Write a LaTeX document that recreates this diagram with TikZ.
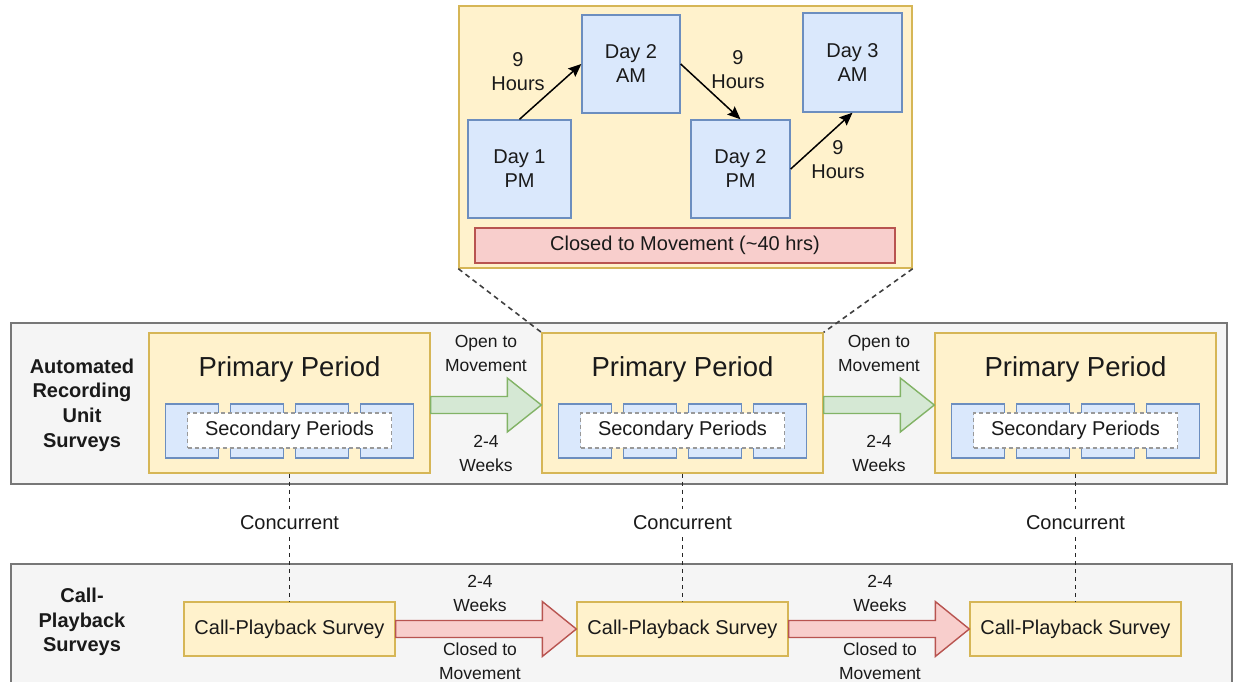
\documentclass[tikz,border=0pt]{standalone}
\usepackage{fontspec}
\setmainfont{Liberation Sans}
\usetikzlibrary{calc,arrows.meta}
\definecolor{yfill}{HTML}{FFF2CC}
\definecolor{ybord}{HTML}{D6B656}
\definecolor{bfill}{HTML}{DAE8FC}
\definecolor{bbord}{HTML}{6C8EBF}
\definecolor{rfill}{HTML}{F8CECC}
\definecolor{rbord}{HTML}{B85450}
\definecolor{gfill}{HTML}{D5E8D4}
\definecolor{gbord}{HTML}{82B366}
\definecolor{grfill}{HTML}{F5F5F5}
\definecolor{grbord}{HTML}{777777}
\definecolor{txt}{HTML}{1A1A1A}
\begin{document}
\begin{tikzpicture}[x=1pt,y=-1pt,
  every node/.style={text=txt},
  lbl/.style={font=\fontsize{20}{24}\selectfont, align=center, inner sep=0pt},
  small/.style={font=\fontsize{17.5}{24}\selectfont, align=center, inner sep=0pt},
  boldlbl/.style={font=\fontsize{20}{24.6}\selectfont\bfseries, align=center, inner sep=0pt},
  bigtxt/.style={font=\fontsize{27.5}{30}\selectfont, inner sep=0pt},
  ybox/.style={draw=ybord, fill=yfill, line width=1.4pt, inner sep=0pt},
  bbox/.style={draw=bbord, fill=bfill, line width=1.4pt, inner sep=0pt},
  rbox/.style={draw=rbord, fill=rfill, line width=1.4pt, inner sep=0pt},
  gbox/.style={draw=grbord, fill=grfill, line width=1.8pt, inner sep=0pt},
  sbox/.style={draw=black!40, fill=white, dashed, dash pattern=on 4pt off 3pt, line width=1.2pt, inner sep=0pt},
  garrow/.style={draw=gbord, fill=gfill, line width=1.4pt, line join=miter},
  rarrow/.style={draw=rbord, fill=rfill, line width=1.4pt, line join=miter},
  flow/.style={draw=black, line width=1.5pt, -{Stealth[length=13pt,width=11pt,inset=2pt]}},
  zoomline/.style={draw=black!75, line width=1.6pt, dash pattern=on 5pt off 4pt},
  vline/.style={draw=black!85, line width=1.4pt, dash pattern=on 4pt off 4pt}
]
\useasboundingbox (0,0) rectangle (1235,681);

% ---------- gray containers ----------
\node[gbox, anchor=north west, minimum width=1216pt, minimum height=161pt] (aru) at (10,322) {};
\node[gbox, anchor=north west, minimum width=1221pt, minimum height=140pt] (cpb) at (10,563) {};
\node[boldlbl] (arulbl) at (82,405) {Automated\\Recording\\Unit\\Surveys};
\node[boldlbl] (cpblbl) at (82,622) {Call-\\Playback\\Surveys};

% ---------- primary periods ----------
\foreach \i/\cx in {1/289.5, 2/682.5, 3/1075.5}{
  \node[ybox, minimum width=281pt, minimum height=140pt] (p\i) at (\cx,403) {};
  \node[bigtxt] (pt\i) at (\cx,369) {Primary Period};
  \foreach \j/\dx in {1/-97.5, 2/-32.5, 3/32.5, 4/97.5}{
    \node[bbox, minimum width=53pt, minimum height=54pt] (s\i\j) at (\cx+\dx,431) {};
  }
  \node[sbox, minimum width=204pt, minimum height=35pt, lbl] (sp\i) at (\cx,430.5) {Secondary Periods};
  \node[ybox, minimum width=211pt, minimum height=54pt, lbl] (c\i) at (\cx,629) {Call-Playback Survey};
  \node[lbl, fill=white, inner sep=7pt] (conc\i) at (\cx,523) {Concurrent};
  \draw[vline] (p\i.south) -- (conc\i);
  \draw[vline] (conc\i) -- (c\i.north);
}

% ---------- green arrows (open to movement) ----------
\foreach \a/\b in {1/2, 2/3}{
  \coordinate (gs\a) at ($(p\a.east)+(0,2)$);
  \coordinate (ge\a) at ($(p\b.west)+(0,2)$);
  \draw[garrow] ($(gs\a)+(0,-8.5)$) -- ($(ge\a)+(-34,-8.5)$) -- ($(ge\a)+(-34,-27)$)
     -- (ge\a) -- ($(ge\a)+(-34,27)$) -- ($(ge\a)+(-34,8.5)$) -- ($(gs\a)+(0,8.5)$) -- cycle;
  \coordinate (c\a\b) at ($(c\a.east)!0.5!(c\b.west)$);
  \coordinate (re\a) at (c\b.west);
  \draw[rarrow] ($(c\a.east)+(0,-8.5)$) -- ($(re\a)+(-34,-8.5)$) -- ($(re\a)+(-34,-27.5)$)
     -- (re\a) -- ($(re\a)+(-34,27.5)$) -- ($(re\a)+(-34,8.5)$) -- ($(c\a.east)+(0,8.5)$) -- cycle;
}
\node[small] (om1) at (486,353.5) {Open to\\Movement};
\node[small] (wk1) at (486,453) {2-4\\Weeks};
\node[small] (om2) at (879,353.5) {Open to\\Movement};
\node[small] (wk2) at (879,453) {2-4\\Weeks};
\node[small] (rw1) at (480,593) {2-4\\Weeks};
\node[small] (rc1) at (480,661) {Closed to\\Movement};
\node[small] (rw2) at (880,593) {2-4\\Weeks};
\node[small] (rc2) at (880,661) {Closed to\\Movement};

% ---------- top detail box ----------
\node[ybox, minimum width=453pt, minimum height=262pt] (tb) at (685.5,137) {};
\node[bbox, minimum width=103pt, minimum height=98pt, lbl] (d1) at (519.5,169) {Day 1\\PM};
\node[bbox, minimum width=98pt, minimum height=98pt, lbl] (d2) at (631,64) {Day 2\\AM};
\node[bbox, minimum width=99pt, minimum height=98pt, lbl] (d3) at (740.5,169) {Day 2\\PM};
\node[bbox, minimum width=99pt, minimum height=99pt, lbl] (d4) at (852.5,62.5) {Day 3\\AM};
\node[rbox, minimum width=420pt, minimum height=35pt, lbl] (closed) at (685,245.5) {Closed to Movement (\char"007E 40 hrs)};

\draw[flow] (d1.north) -- (d2.west);
\draw[flow] (d2.east) -- (d3.north);
\draw[flow] (d3.east) -- (d4.south);
\node[lbl] (h1) at (518,71.5) {9\\Hours};
\node[lbl] (h2) at (738,70) {9\\Hours};
\node[lbl] (h3) at (838,159.5) {9\\Hours};

\draw[zoomline] (tb.south west) -- (p2.north west);
\draw[zoomline] (tb.south east) -- (p2.north east);
\end{tikzpicture}
\end{document}
